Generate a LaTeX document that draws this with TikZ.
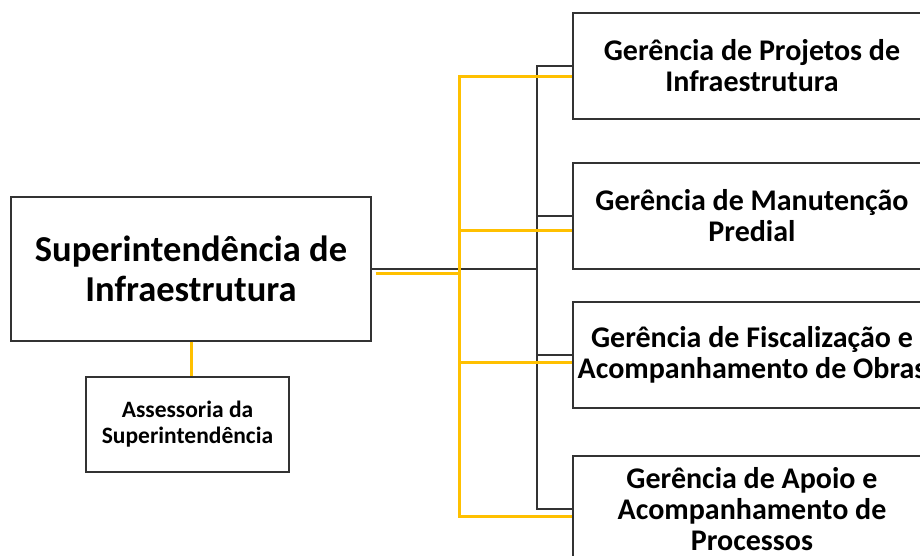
\documentclass[tikz,border=0pt]{standalone}
\usepackage{fontspec}
\setmainfont{Carlito}
\usepackage{xcolor}
\usepackage{tikz}
\definecolor{orgyellow}{HTML}{FFC000}

\begin{document}
\begin{tikzpicture}[x=1pt, y=-1pt,
  box/.style={draw=black!80, line width=1.2pt, fill=white, align=center, inner sep=0pt},
  link/.style={draw=black!80, line width=1.3pt},
  gold/.style={draw=orgyellow, line width=3pt}]
\useasboundingbox (0,0) rectangle (920,555);
\clip (0,0) rectangle (920,555);
\fill[white] (0,0) rectangle (920,555);

% boxes
\node[box, minimum width=360pt, minimum height=144pt,
  font=\fontsize{36.5}{40}\selectfont\bfseries] (sup) at (191,269) {Superintendência de\\Infraestrutura};
\node[box, minimum width=203pt, minimum height=95pt,
  font=\fontsize{23.5}{26}\selectfont\bfseries] (ass) at (187.5,424.5) {Assessoria da\\Superintendência};
\node[box, minimum width=358pt, minimum height=106pt,
  font=\fontsize{30}{31}\selectfont\bfseries] (ger1) at (752,66) {Gerência de Projetos de\\Infraestrutura};
\node[box, minimum width=358pt, minimum height=106pt,
  font=\fontsize{30}{31}\selectfont\bfseries] (ger2) at (752,216) {Gerência de Manutenção\\Predial};
\node[box, minimum width=358pt, minimum height=106pt,
  font=\fontsize{30}{31}\selectfont\bfseries] (ger3) at (752,355) {Gerência de Fiscalização e\\Acompanhamento de Obras};
\node[box, minimum width=358pt, minimum height=106pt,
  font=\fontsize{30}{31}\selectfont\bfseries] (ger4) at (752,509) {Gerência de Apoio e\\Acompanhamento de\\Processos};

% black connectors
\coordinate (bus) at (537,269);
\draw[link] (sup.east) -- (bus);
\foreach \g in {ger1,ger2,ger3,ger4}
  \draw[link] (bus) |- (\g.west);

% yellow connectors
\coordinate (ybus) at (459,273);
\draw[gold] ([xshift=4pt,yshift=-4pt]sup.east) -- (ybus);
\draw[gold] (ybus) |- ([yshift=-10pt]ger1.west);
\draw[gold] (ybus) |- ([yshift=-14pt]ger2.west);
\draw[gold] (ybus) |- ([yshift=-7pt]ger3.west);
\draw[gold] (ybus) |- ([yshift=-7pt]ger4.west);
\draw[gold] (sup.south) -- (sup.south |- ass.north);
\end{tikzpicture}
\end{document}
